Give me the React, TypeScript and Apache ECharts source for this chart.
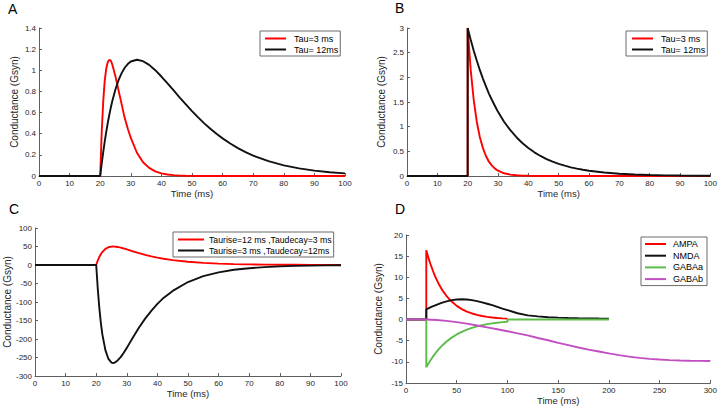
import React, { useEffect, useRef } from "react";
import * as echarts from "echarts";

// ---------- Panel A (alpha synapse) ----------
const timeA = [0, 20, 20.5, 21, 21.5, 22, 22.5, 23, 23.5, 24, 25, 26, 27, 28, 29, 30, 32, 34, 36, 38, 40, 42, 44, 46, 48, 50, 52, 54, 56, 58, 60, 62.5, 65, 67.5, 70, 75, 80, 85, 90, 95, 100];
const alphaTau3 = [0, 0, 0.42, 0.71, 0.91, 1.02, 1.08, 1.1, 1.09, 1.05, 0.94, 0.81, 0.68, 0.55, 0.45, 0.36, 0.22, 0.13, 0.077, 0.044, 0.025, 0.014, 0.008, 0.004, 0.002, 0.001, 0, 0, 0, 0, 0, 0, 0, 0, 0, 0, 0, 0, 0, 0, 0];
const alphaTau12 = [0, 0, 0.12, 0.229, 0.33, 0.422, 0.506, 0.582, 0.652, 0.714, 0.821, 0.907, 0.973, 1.024, 1.059, 1.083, 1.1, 1.086, 1.051, 1.001, 0.941, 0.876, 0.809, 0.742, 0.677, 0.614, 0.554, 0.498, 0.447, 0.399, 0.356, 0.307, 0.264, 0.226, 0.193, 0.14, 0.101, 0.072, 0.051, 0.036, 0.025];

// ---------- Panel B (exponential) ----------
const timeB = [0, 20, 20, 21, 22, 23, 24, 25, 26, 27, 28, 29, 30, 32, 34, 36, 38, 40, 42, 44, 46, 48, 50, 52, 54, 56, 58, 60, 65, 70, 75, 80, 85, 90, 95, 100];
const expTau3 = [0, 0, 3, 2.15, 1.54, 1.1, 0.79, 0.57, 0.41, 0.29, 0.21, 0.15, 0.107, 0.055, 0.028, 0.014, 0.007, 0.004, 0.002, 0.001, 0.001, 0, 0, 0, 0, 0, 0, 0, 0, 0, 0, 0, 0, 0, 0, 0];
const expTau12 = [0, 0, 3, 2.76, 2.54, 2.34, 2.15, 1.98, 1.82, 1.67, 1.54, 1.42, 1.3, 1.1, 0.934, 0.791, 0.669, 0.567, 0.48, 0.406, 0.344, 0.291, 0.246, 0.209, 0.176, 0.149, 0.126, 0.107, 0.071, 0.046, 0.031, 0.02, 0.013, 0.009, 0.006, 0.004];

// ---------- Panel C (dual exponential) ----------
const timeC = [0, 20, 20.5, 21, 21.5, 22, 23, 24, 25, 25.5, 26, 27, 28, 29, 30, 32, 34, 36, 38, 40, 42, 45, 50, 55, 60, 65, 70, 75, 80, 85, 90, 95, 100];
const rise12decay3 = [0, 0, 12, 21.5, 29, 35, 43.4, 48, 49.8, 50, 49.8, 48.8, 47, 44.7, 42.3, 37, 31.9, 27.4, 23.4, 19.8, 16.8, 13.2, 8.7, 5.7, 3.8, 2.5, 1.6, 1.1, 0.7, 0.5, 0.3, 0.2, 0.13];
const rise3decay12 = [0, 0, -63, -114, -155, -187, -230, -254, -264, -265, -264, -258, -249, -237, -224, -196, -169, -145, -124, -105, -89, -70, -46, -30, -20, -13, -8.7, -5.7, -3.8, -2.5, -1.6, -1.1, -0.7];

// ---------- Panel D (receptor types) ----------
const timeAmpa = [0, 20, 20, 22, 24, 26, 28, 30, 33, 36, 40, 45, 50, 55, 60, 65, 70, 75, 80, 85, 90, 95, 100];
const ampa = [0, 0, 16.4, 14.7, 13.2, 11.9, 10.6, 9.55, 8.1, 6.9, 5.56, 4.25, 3.24, 2.47, 1.89, 1.44, 1.1, 0.84, 0.64, 0.49, 0.37, 0.28, 0.22];
const timeNmda = [0, 20, 20, 25, 30, 35, 40, 45, 50, 55, 60, 65, 70, 75, 80, 85, 90, 95, 100, 110, 120, 130, 140, 150, 160, 170, 180, 190, 200];
const nmda = [0, 0, 2.4, 3.0, 3.5, 3.95, 4.3, 4.6, 4.75, 4.8, 4.75, 4.6, 4.35, 4.05, 3.75, 3.4, 3.0, 2.6, 2.25, 1.5, 1.0, 0.75, 0.55, 0.45, 0.37, 0.32, 0.28, 0.25, 0.23];
const timeGabaA = [0, 20, 20, 22, 24, 26, 28, 30, 33, 36, 40, 45, 50, 55, 60, 65, 70, 75, 80, 85, 90, 95, 100, 100, 200];
const gabaA = [0, 0, -11.3, -10.45, -9.67, -8.95, -8.28, -7.66, -6.81, -6.06, -5.19, -4.27, -3.52, -2.9, -2.38, -1.96, -1.61, -1.33, -1.09, -0.9, -0.74, -0.61, -0.5, 0, 0];
const timeGabaB = [0, 10, 20, 30, 40, 50, 60, 70, 80, 90, 100, 110, 120, 130, 140, 150, 160, 170, 180, 190, 200, 210, 220, 230, 240, 250, 260, 270, 280, 290, 300];
const gabaB = [0, 0, 0, -0.1, -0.3, -0.6, -0.95, -1.4, -1.85, -2.3, -2.75, -3.25, -3.75, -4.35, -4.9, -5.5, -6.05, -6.6, -7.1, -7.55, -8.0, -8.4, -8.75, -9.05, -9.3, -9.45, -9.58, -9.67, -9.73, -9.77, -9.8];

const panelLetters = ["A", "B", "C", "D"];
const legendA = ["Tau=3 ms", "Tau= 12ms"];
const legendC = ["Taurise=12 ms ,Taudecay=3 ms", "Taurise=3 ms ,Taudecay=12ms"];
const legendD = ["AMPA", "NMDA", "GABAa", "GABAb"];

const FONT = '"Liberation Sans", Arial, Helvetica, sans-serif';
const AXIS_COLOR = "#5f5f5f";
const TEXT_COLOR = "#262626";
const RED = "#ff0000";
const BLACK = "#111111";
const GREEN = "#5dbb4a";
const MAGENTA = "#c14fc1";

const pairs = (xs: number[], ys: number[]) => xs.map((x, i) => [x, ys[i]]);

function xAxisCfg(gridIndex: number, max: number, interval: number) {
  return {
    type: "value",
    gridIndex,
    min: 0,
    max,
    interval,
    name: "Time (ms)",
    nameLocation: "middle",
    nameGap: 12,
    nameTextStyle: { fontSize: 9.5, color: TEXT_COLOR, fontFamily: FONT },
    axisLine: { show: true, onZero: false, lineStyle: { color: AXIS_COLOR, width: 1 } },
    axisTick: { show: true, inside: true, length: 3, lineStyle: { color: AXIS_COLOR } },
    axisLabel: { fontSize: 8, color: TEXT_COLOR, fontFamily: FONT, margin: 3 },
    splitLine: { show: false },
  };
}

function yAxisCfg(gridIndex: number, min: number, max: number, interval: number, nameGap: number) {
  return {
    type: "value",
    gridIndex,
    min,
    max,
    interval,
    name: "Conductance (Gsyn)",
    nameLocation: "middle",
    nameGap,
    nameTextStyle: { fontSize: 10, color: TEXT_COLOR, fontFamily: FONT },
    axisLine: { show: true, onZero: false, lineStyle: { color: AXIS_COLOR, width: 1 } },
    axisTick: { show: true, inside: true, length: 3, lineStyle: { color: AXIS_COLOR } },
    axisLabel: { fontSize: 8, color: TEXT_COLOR, fontFamily: FONT, margin: 3 },
    splitLine: { show: false },
  };
}

function lineSeries(name: string, idx: number, data: number[][], color: string) {
  return {
    type: "line",
    name,
    xAxisIndex: idx,
    yAxisIndex: idx,
    data,
    showSymbol: false,
    symbol: "none",
    lineStyle: { color, width: 1.9 },
    itemStyle: { color },
    emphasis: { disabled: true },
  };
}

function legendCfg(data: string[], left: number, top: number, itemWidth: number, fontSize: number, textPad: number, padding: number[], itemGap: number) {
  return {
    data,
    left,
    top,
    orient: "vertical",
    icon: "rect",
    itemWidth,
    itemHeight: 2,
    itemGap,
    padding,
    backgroundColor: "#ffffff",
    borderColor: "#6a6a6a",
    borderWidth: 1,
    borderRadius: 0,
    selectedMode: false,
    textStyle: { fontSize, color: "#000", fontFamily: FONT, lineHeight: 11, padding: [0, 0, 0, textPad] },
  };
}

export default function App() {
  const ref = useRef<HTMLDivElement>(null);
  useEffect(() => {
    if (!ref.current) return;
    const chart = echarts.init(ref.current, undefined, { renderer: "svg" });
    const letterPos = [
      [8, 2],
      [395, 1],
      [9, 202],
      [395, 202],
    ];
    chart.setOption({
      animation: false,
      backgroundColor: "#ffffff",
      title: panelLetters.map((t, i) => ({
        text: t,
        left: letterPos[i][0],
        top: letterPos[i][1],
        padding: 0,
        textStyle: { fontSize: 14, fontWeight: "normal", color: "#000", fontFamily: FONT },
      })),
      grid: [
        { left: 39, top: 28, width: 306, height: 148 },
        { left: 407, top: 28, width: 305, height: 148 },
        { left: 35, top: 228, width: 306, height: 148 },
        { left: 406, top: 235, width: 306, height: 148 },
      ],
      xAxis: [xAxisCfg(0, 100, 10), xAxisCfg(1, 100, 10), xAxisCfg(2, 100, 10), xAxisCfg(3, 300, 50)],
      yAxis: [
        yAxisCfg(0, 0, 1.4, 0.2, 20),
        yAxisCfg(1, 0, 3, 0.5, 21),
        yAxisCfg(2, -300, 100, 50, 22),
        yAxisCfg(3, -15, 20, 5, 23),
      ],
      legend: [
        legendCfg(legendA, 260, 31, 21, 9, 3, [2, 2, 1, 5], 0),
        legendCfg(legendA, 626, 31, 21, 9, 3, [2, 2, 1, 6], 0),
        legendCfg(legendC, 173, 232, 26, 8.7, 0, [2, 2, 1, 5], 0),
        legendCfg(legendD, 641, 237, 21, 9, 2, [1.5, 4, 1, 4], 0.7),
      ],
      series: [
        lineSeries(legendA[0], 0, pairs(timeA, alphaTau3), RED),
        lineSeries(legendA[1], 0, pairs(timeA, alphaTau12), BLACK),
        lineSeries(legendA[0], 1, pairs(timeB, expTau3), RED),
        lineSeries(legendA[1], 1, pairs(timeB, expTau12), BLACK),
        lineSeries(legendC[0], 2, pairs(timeC, rise12decay3), RED),
        lineSeries(legendC[1], 2, pairs(timeC, rise3decay12), BLACK),
        lineSeries(legendD[0], 3, pairs(timeAmpa, ampa), RED),
        lineSeries(legendD[1], 3, pairs(timeNmda, nmda), BLACK),
        lineSeries(legendD[2], 3, pairs(timeGabaA, gabaA), GREEN),
        lineSeries(legendD[3], 3, pairs(timeGabaB, gabaB), MAGENTA),
      ],
    });
    return () => chart.dispose();
  }, []);
  return (
    <div
      ref={ref}
      style={{ position: "fixed", left: 0, top: 0, width: 720, height: 409, background: "#fff" }}
    />
  );
}
